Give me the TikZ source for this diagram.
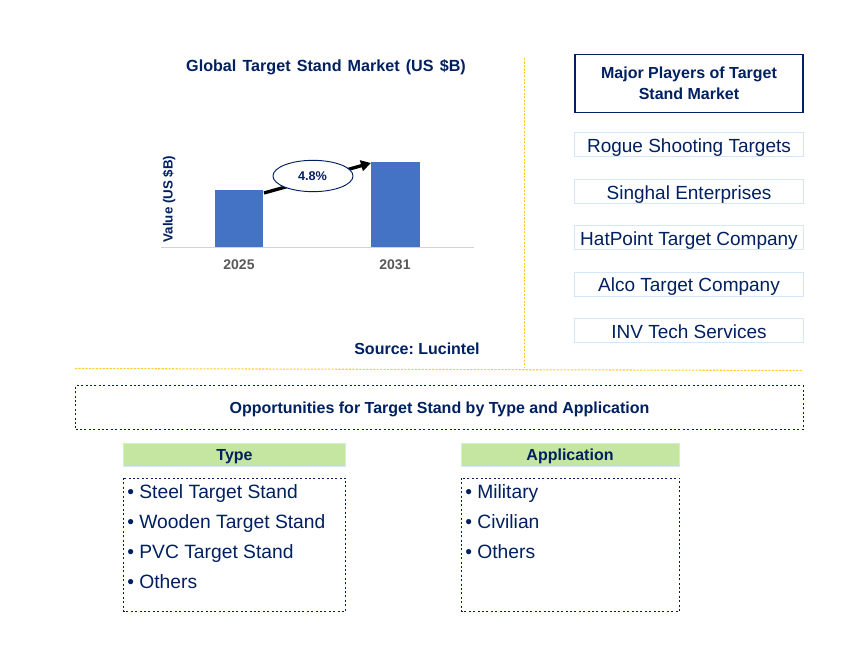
\documentclass[tikz,border=0pt]{standalone}
\usepackage{fontspec}
\setmainfont{Liberation Sans}
\usetikzlibrary{arrows.meta,shapes.geometric}
\definecolor{navy}{HTML}{002060}
\definecolor{barblue}{HTML}{4472C4}
\definecolor{gold}{HTML}{FFC000}
\definecolor{paleblue}{HTML}{D2E8F8}
\definecolor{hdrgreen}{HTML}{C5E6A0}
\definecolor{axisgrey}{HTML}{D0D3DA}
\definecolor{yeargrey}{HTML}{595959}
\newcommand{\widewords}{\spaceskip=4.6pt\relax}
\tikzset{x=0.75pt,y=-0.75pt,
 txt/.style={text=navy,inner sep=0pt,align=center},
 basetxt/.style={text=navy,inner sep=0pt,anchor=base},
 bartitle/.style={basetxt,font=\fontsize{12.1}{14.5}\selectfont\bfseries},
 player/.style={draw=paleblue,line width=0.8pt,minimum width=172pt,minimum height=18pt,inner sep=0pt},
 playertxt/.style={basetxt,font=\fontsize{14.25}{16}\selectfont},
 bar/.style={fill=barblue,draw=none},
 dotbox/.style={draw=navy,line width=0.75pt,dash pattern=on 1.5pt off 1.8pt},
 hdr/.style={fill=hdrgreen,draw=paleblue,line width=0.7pt,inner sep=0pt},
 boldtxt/.style={basetxt,font=\frenchspacing\fontsize{12}{14}\selectfont\bfseries},
 items/.style={text=navy,inner sep=0pt,anchor=base west,font=\fontsize{14.45}{16}\selectfont},
 yeartxt/.style={text=yeargrey,inner sep=0pt,anchor=base,font=\fontsize{10.5}{12}\selectfont\bfseries},
 goldline/.style={draw=gold!80,line width=0.8pt,dash pattern=on 1.6pt off 1pt},
}
\begin{document}
\begin{tikzpicture}
\useasboundingbox (0,0) rectangle (868,652);
\fill[white] (0,0) rectangle (868,652);
\node[bartitle] (title) at (326,71.5) {\widewords Global Target Stand Market (US \$B)};
\node[txt,rotate=90,anchor=base,font=\fontsize{10}{12}\selectfont\bfseries] (ylab) at (172.5,199) {Value (US \$B)};
\fill[bar] (215,190) rectangle (263,247) coordinate (b1);
\fill[bar] (371,162) rectangle (420,247) coordinate (b2);
\coordinate (axl) at (161,247.5); \coordinate (axr) at (474,247.5);
\draw[axisgrey,line width=0.8pt] (axl) -- (axr);
\node[yeartxt] (y1) at (239,270) {2025};
\node[yeartxt] (y2) at (395,270) {2031};
\coordinate (as) at (264,193); \coordinate (ae) at (371,163);
\draw[black,line width=2.5pt,-{Triangle[length=7.5pt,width=8pt]}] (as) -- (ae);
\node[ellipse,draw=navy,fill=white,line width=0.7pt,minimum width=60pt,minimum height=23.5pt,inner sep=0pt] (cagr) at (313,176) {};
\node[basetxt,font=\fontsize{9.5}{11}\selectfont\bfseries] (cagrt) at (312.5,181) {4.8\%};
\node[boldtxt] (src) at (417,354.5) {Source: Lucintel};
\coordinate (v1) at (524.5,58); \coordinate (v2) at (524.5,368);
\draw[goldline] (v1) -- (v2);
\coordinate (h1) at (75,368.5); \coordinate (h2) at (803,370.5);
\draw[goldline] (h1) -- (h2);
\node[draw=navy,line width=0.8pt,minimum width=171pt,minimum height=43pt,inner sep=0pt] (major) at (689,83.5) {};
\node[boldtxt] (m1) at (689,78.3) {Major Players of Target};
\node[boldtxt] (m2) at (689,99.3) {Stand Market};
\node[player] (p1) at (689,144.7) {};
\node[player] (p2) at (689,191.7) {};
\node[player] (p3) at (689,237.7) {};
\node[player] (p4) at (689,284.2) {};
\node[player] (p5) at (689,330.7) {};
\node[playertxt] (p1t) at (689,152.3) {Rogue Shooting Targets};
\node[playertxt] (p2t) at (689,199.3) {Singhal Enterprises};
\node[playertxt] (p3t) at (689,245.3) {HatPoint Target Company};
\node[playertxt] (p4t) at (689,291.8) {Alco Target Company};
\node[playertxt] (p5t) at (689,338.3) {INV Tech Services};
\node[dotbox,minimum width=546pt,minimum height=32.5pt,inner sep=0pt] (opp) at (439.5,407.5) {};
\node[boldtxt] (oppt) at (439.5,413.3) {Opportunities for Target Stand by Type and Application};
\node[hdr,minimum width=166pt,minimum height=17.5pt] (thdr) at (234.5,455) {};
\node[hdr,minimum width=164pt,minimum height=17.5pt] (ahdr) at (570.5,455) {};
\node[boldtxt] (thdrt) at (234.5,460.3) {Type};
\node[boldtxt] (ahdrt) at (570,460.3) {Application};
\draw[dotbox] (123.5,478) rectangle (345.5,611.5);
\draw[dotbox] (461.5,478) rectangle (679.5,611.5);
\node[items] (t1) at (127,498.3) {• Steel Target Stand};
\node[items] (t2) at (127,528.3) {• Wooden Target Stand};
\node[items] (t3) at (127,558.3) {• PVC Target Stand};
\node[items] (t4) at (127,588.3) {• Others};
\node[items] (a1) at (465,498.3) {• Military};
\node[items] (a2) at (465,528.3) {• Civilian};
\node[items] (a3) at (465,558.3) {• Others};
\end{tikzpicture}
\end{document}
